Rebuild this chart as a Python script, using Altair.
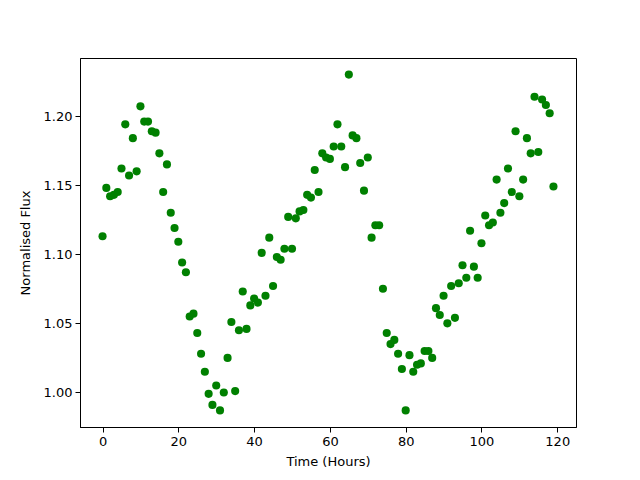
import altair as alt
import pandas as pd

hours = list(range(120))
flux = [
    1.113, 1.148, 1.142, 1.143, 1.145, 1.162, 1.194, 1.157, 1.184, 1.160,
    1.207, 1.196, 1.196, 1.189, 1.188, 1.173, 1.145, 1.165, 1.130, 1.119,
    1.109, 1.094, 1.087, 1.055, 1.057, 1.043, 1.028, 1.015, 0.999, 0.991,
    1.005, 0.987, 1.000, 1.025, 1.051, 1.001, 1.045, 1.073, 1.046, 1.063,
    1.068, 1.065, 1.101, 1.070, 1.112, 1.077, 1.098, 1.096, 1.104, 1.127,
    1.104, 1.126, 1.131, 1.132, 1.143, 1.141, 1.161, 1.145, 1.173, 1.170,
    1.169, 1.178, 1.194, 1.178, 1.163, 1.230, 1.186, 1.184, 1.166, 1.146,
    1.170, 1.112, 1.121, 1.121, 1.075, 1.043, 1.035, 1.038, 1.028, 1.017,
    0.987, 1.027, 1.015, 1.020, 1.021, 1.030, 1.030, 1.025, 1.061, 1.056,
    1.070, 1.050, 1.077, 1.054, 1.079, 1.092, 1.083, 1.117, 1.091, 1.083,
    1.108, 1.128, 1.121, 1.123, 1.154, 1.130, 1.137, 1.162, 1.145, 1.189,
    1.142, 1.154, 1.184, 1.173, 1.214, 1.174, 1.212, 1.208, 1.202, 1.149,
]
x_ticks = [0, 20, 40, 60, 80, 100, 120]
y_ticks = [1.00, 1.05, 1.10, 1.15, 1.20]

df = pd.DataFrame({"hours": hours, "flux": flux})

axis_common = dict(
    domainColor="black", tickColor="black", labelColor="black", titleColor="black",
    tickSize=5, labelFontSize=13, titleFontSize=13, labelFont="DejaVu Sans",
    titleFont="DejaVu Sans", titleFontWeight="normal", grid=False, labelPadding=3,
)

chart = alt.Chart(df).mark_circle(size=66, color="#008000", opacity=1).encode(
    x=alt.X("hours:Q", title="Time (Hours)",
            scale=alt.Scale(domain=[-5.95, 124.95], nice=False, zero=False),
            axis=alt.Axis(values=x_ticks, format="d", titlePadding=7, **axis_common)),
    y=alt.Y("flux:Q", title="Normalised Flux",
            scale=alt.Scale(domain=[0.975, 1.242], nice=False, zero=False),
            axis=alt.Axis(values=y_ticks, format=".2f", titlePadding=11, **axis_common)),
).properties(
    width=496, height=369,
    autosize=alt.AutoSizeParams(type="none"),
    padding={"left": 72, "top": 50, "right": 56, "bottom": 45},
).configure_view(stroke="black", strokeWidth=1)

chart.save("out.html", embed_options={"renderer": "svg", "actions": False})
